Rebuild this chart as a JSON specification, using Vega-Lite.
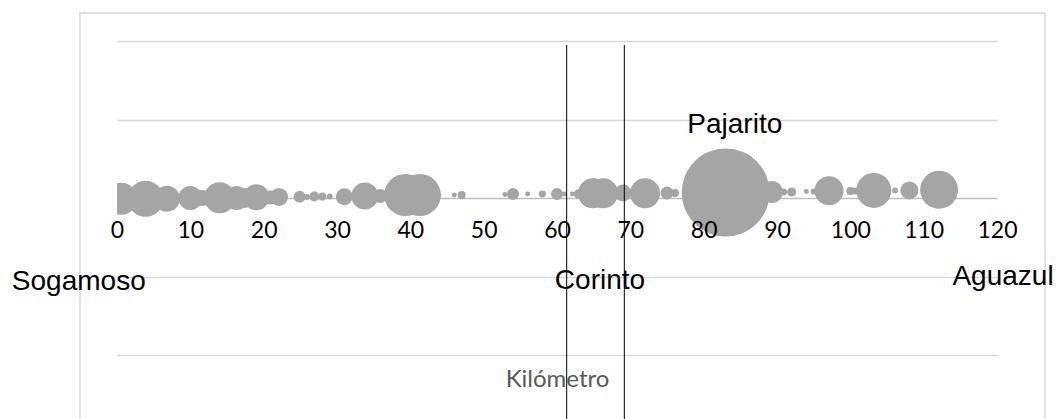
{
  "$schema": "https://vega.github.io/schema/vega-lite/v6.json",
  "width": 880,
  "height": 314,
  "autosize": {"type": "none"},
  "padding": {"left": 117, "top": 41, "right": 60, "bottom": 64},
  "background": "#ffffff",
  "config": {"view": {"stroke": null}},
  "datasets": {
    "bubbles": [
      {"km": 0.6, "y": -0.01, "valor": 13.2},
      {"km": 3.9, "y": -0.01, "valor": 16.7},
      {"km": 6.8, "y": -0.01, "valor": 8.7},
      {"km": 10.0, "y": 0.0, "valor": 7.4},
      {"km": 11.6, "y": 0.0, "valor": 3.3},
      {"km": 14.0, "y": 0.004, "valor": 12.4},
      {"km": 16.3, "y": 0.0, "valor": 7.4},
      {"km": 17.5, "y": 0.0, "valor": 5.2},
      {"km": 19.0, "y": 0.009, "valor": 8.7},
      {"km": 20.9, "y": 0.006, "valor": 2.53},
      {"km": 22.1, "y": 0.013, "valor": 4.18},
      {"km": 24.9, "y": 0.015, "valor": 1.86},
      {"km": 25.9, "y": 0.013, "valor": 0.46},
      {"km": 26.9, "y": 0.019, "valor": 1.29},
      {"km": 28.0, "y": 0.019, "valor": 0.83},
      {"km": 29.0, "y": 0.019, "valor": 0.46},
      {"km": 31.0, "y": 0.017, "valor": 3.73},
      {"km": 33.8, "y": 0.025, "valor": 9.41},
      {"km": 35.9, "y": 0.025, "valor": 2.53},
      {"km": 39.3, "y": 0.038, "valor": 22.8},
      {"km": 41.3, "y": 0.038, "valor": 22.8},
      {"km": 43.9, "y": 0.038, "valor": 0.32},
      {"km": 46.0, "y": 0.038, "valor": 0.32},
      {"km": 47.0, "y": 0.038, "valor": 0.83},
      {"km": 52.9, "y": 0.045, "valor": 0.32},
      {"km": 54.0, "y": 0.051, "valor": 1.86},
      {"km": 56.0, "y": 0.051, "valor": 0.32},
      {"km": 58.0, "y": 0.051, "valor": 0.63},
      {"km": 60.0, "y": 0.051, "valor": 1.86},
      {"km": 61.0, "y": 0.051, "valor": 0.32},
      {"km": 62.1, "y": 0.051, "valor": 0.32},
      {"km": 62.9, "y": 0.051, "valor": 1.05},
      {"km": 64.9, "y": 0.06, "valor": 11.6},
      {"km": 66.3, "y": 0.06, "valor": 11.6},
      {"km": 69.0, "y": 0.064, "valor": 3.73},
      {"km": 72.0, "y": 0.06, "valor": 11.6},
      {"km": 75.0, "y": 0.064, "valor": 2.18},
      {"km": 76.1, "y": 0.064, "valor": 0.83},
      {"km": 83.0, "y": 0.07, "valor": 100},
      {"km": 89.3, "y": 0.076, "valor": 6.25},
      {"km": 90.9, "y": 0.076, "valor": 0.63},
      {"km": 92.0, "y": 0.076, "valor": 1.05},
      {"km": 94.0, "y": 0.083, "valor": 0.32},
      {"km": 95.0, "y": 0.083, "valor": 0.46},
      {"km": 97.1, "y": 0.093, "valor": 10.9},
      {"km": 100.0, "y": 0.089, "valor": 0.83},
      {"km": 100.6, "y": 0.089, "valor": 0.63},
      {"km": 103.2, "y": 0.096, "valor": 15.8},
      {"km": 106.1, "y": 0.096, "valor": 0.46},
      {"km": 108.05, "y": 0.096, "valor": 4.18},
      {"km": 112.1, "y": 0.104, "valor": 18.6}
    ],
    "lugares": [
      {"nombre": "Pajarito", "km": 84.24, "y": 0.832},
      {"nombre": "Sogamoso", "km": -5.21, "y": -1.176},
      {"nombre": "Corinto", "km": 65.86, "y": -1.16},
      {"nombre": "Aguazul", "km": 120.82, "y": -1.108}
    ],
    "limites": [
      {"km": 61.32, "y": 1.95, "y2": -3},
      {"km": 69.18, "y": 1.95, "y2": -3}
    ],
    "marco": [
      {"km": -5.05, "x2": 126.55, "y": 2.357, "y2": -3}
    ]
  },
  "layer": [
    {
      "data": {"name": "marco"},
      "mark": {"type": "rect", "fill": null, "stroke": "#d9d9d9", "strokeWidth": 1.5, "clip": false},
      "encoding": {
        "x": {
          "field": "km", "type": "quantitative",
          "scale": {"domain": [0, 120], "nice": false, "zero": false},
          "axis": {
            "values": [0, 10, 20, 30, 40, 50, 60, 70, 80, 90, 100, 110, 120],
            "grid": false, "ticks": false, "tickSize": 0, "zindex": 1,
            "domain": false,
            "labelFont": "Lato", "labelFontSize": 23, "labelColor": "#000000",
            "labelBaseline": "alphabetic", "labelPadding": 40,
            "labelFlush": false, "labelOverlap": false,
            "offset": -158,
            "title": "Kilómetro", "titleFont": "Lato", "titleFontSize": 24,
            "titleFontWeight": "normal", "titleColor": "#595959",
            "titleX": 440, "titleY": 189, "titleBaseline": "alphabetic", "titleAlign": "center"
          }
        },
        "x2": {"field": "x2"},
        "y": {
          "field": "y", "type": "quantitative",
          "scale": {"domain": [-2, 2], "nice": false, "zero": false},
          "axis": {
            "values": [-2, -1, 0, 1, 2], "grid": true,
            "gridColor": {"condition": {"test": "datum.value === 0", "value": "#bfbfbf"}, "value": "#d9d9d9"},
            "gridWidth": 1.5,
            "labels": false, "ticks": false, "domain": false, "title": null, "zindex": 0
          }
        },
        "y2": {"field": "y2"}
      }
    },
    {
      "data": {"name": "bubbles"},
      "mark": {"type": "circle", "color": "#a5a5a5", "opacity": 1, "clip": true},
      "encoding": {
        "x": {"field": "km", "type": "quantitative"},
        "y": {"field": "y", "type": "quantitative"},
        "size": {"field": "valor", "type": "quantitative", "scale": {"domain": [0, 100], "range": [0, 7744], "zero": true}, "legend": null}
      }
    },
    {
      "data": {"name": "limites"},
      "mark": {"type": "rule", "color": "#000000", "strokeWidth": 1, "clip": false},
      "encoding": {
        "x": {"field": "km", "type": "quantitative"},
        "y": {"field": "y", "type": "quantitative"},
        "y2": {"field": "y2"}
      }
    },
    {
      "data": {"name": "lugares"},
      "mark": {"type": "text", "font": "Liberation Sans", "fontSize": 28, "color": "#000000", "align": "center", "baseline": "alphabetic", "clip": false},
      "encoding": {
        "x": {"field": "km", "type": "quantitative"},
        "y": {"field": "y", "type": "quantitative"},
        "text": {"field": "nombre", "type": "nominal"}
      }
    }
  ]
}
